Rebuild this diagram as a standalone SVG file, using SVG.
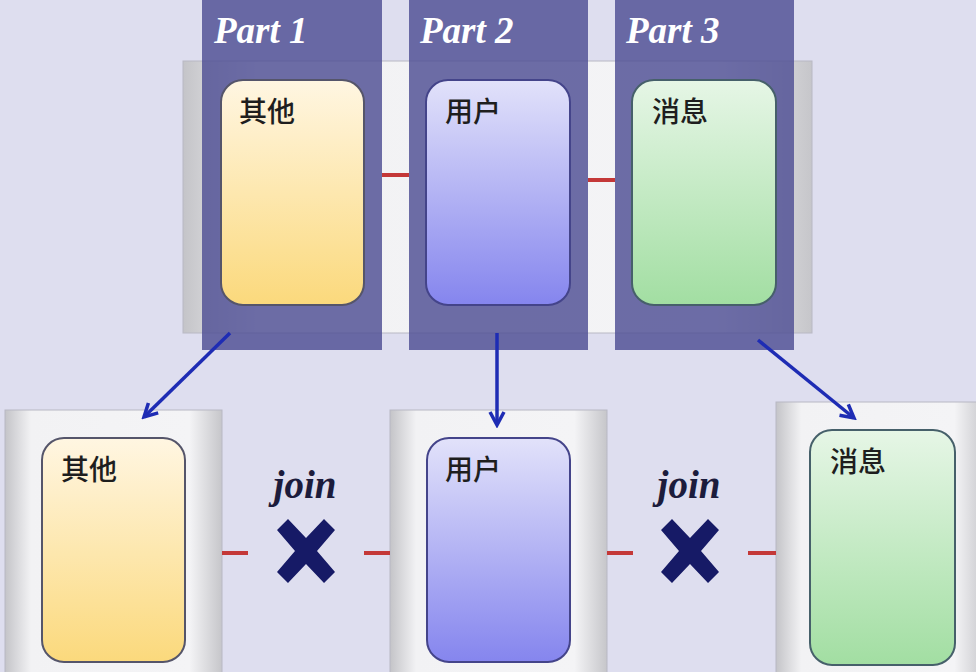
<svg xmlns="http://www.w3.org/2000/svg" width="976" height="672" viewBox="0 0 976 672">
<style>
.panel{fill:url(#panelG);stroke:#b8b8c4;stroke-width:1}
.part{fill:#4e4e94;fill-opacity:0.82}
.cardY{fill:url(#gY);stroke:#55556a;stroke-width:2}
.cardB{fill:url(#gB);stroke:#44448a;stroke-width:2}
.cardG{fill:url(#gG);stroke:#46606a;stroke-width:2}
.cjk{font-family:"Noto Sans CJK SC","Noto Sans",sans-serif;font-size:28px;font-weight:500;fill:#1e1e1e}
.ptl{font-family:"Liberation Serif",serif;font-style:italic;font-weight:bold;font-size:37px;fill:#ffffff}
.join{font-family:"Liberation Serif",serif;font-style:italic;font-weight:bold;font-size:39px;fill:#1c1c3c}
.red{stroke:#c43838;stroke-width:4}
.arr{stroke:#1e2cb4;stroke-width:3.5;fill:none;marker-end:url(#ah)}
.xm{fill:#161a66}
</style>
<defs>
<linearGradient id="panelG" x1="0" y1="0" x2="1" y2="0">
<stop offset="0" stop-color="#c4c4c8"/>
<stop offset="0.12" stop-color="#f2f2f4"/>
<stop offset="0.85" stop-color="#f4f4f6"/>
<stop offset="1" stop-color="#c6c6ca"/>
</linearGradient>
<linearGradient id="gY" x1="0" y1="0" x2="0" y2="1">
<stop offset="0" stop-color="#fff6e2"/>
<stop offset="1" stop-color="#fbd97c"/>
</linearGradient>
<linearGradient id="gB" x1="0" y1="0" x2="0" y2="1">
<stop offset="0" stop-color="#e2e2fa"/>
<stop offset="1" stop-color="#8585ee"/>
</linearGradient>
<linearGradient id="gG" x1="0" y1="0" x2="0" y2="1">
<stop offset="0" stop-color="#e6f6e6"/>
<stop offset="1" stop-color="#a2dea2"/>
</linearGradient>
<marker id="ah" markerWidth="18" markerHeight="18" refX="15" refY="9" orient="auto" markerUnits="userSpaceOnUse" viewBox="0 0 18 18">
<polyline points="2,2 15,9 2,16" fill="none" stroke="#1e2cb4" stroke-width="3.5" stroke-linejoin="miter"/>
</marker>
<path id="xshape" d="M-18,-32 L0,-13 L18,-32 L29,-21 L11,0 L29,21 L18,32 L0,13 L-18,32 L-29,21 L-11,0 L-29,-21 Z"/>
</defs>
<rect x="0" y="0" width="976" height="672" fill="#dedeef"/>

<g id="top-container">
<rect x="183" y="61" width="629" height="272" class="panel"/>
</g>
<g id="part1">
<rect x="202" y="0" width="180" height="350" class="part"/>
<text x="214" y="43" class="ptl">Part 1</text>
</g>
<g id="part2">
<rect x="409" y="0" width="179" height="350" class="part"/>
<text x="420" y="43" class="ptl">Part 2</text>
</g>
<g id="part3">
<rect x="615" y="0" width="179" height="350" class="part"/>
<text x="626" y="43" class="ptl">Part 3</text>
</g>
<g id="top-other">
<rect x="221" y="80" width="143" height="225" rx="22" class="cardY"/>
<text x="239" y="122" class="cjk">其他</text>
</g>
<g id="top-user">
<rect x="426" y="80" width="144" height="225" rx="22" class="cardB"/>
<text x="445" y="122" class="cjk">用户</text>
</g>
<g id="top-message">
<rect x="632" y="80" width="144" height="225" rx="22" class="cardG"/>
<text x="652" y="122" class="cjk">消息</text>
</g>

<g id="bottom-other">
<rect x="5" y="410" width="217" height="270" class="panel"/>
<rect x="42" y="438" width="143" height="224" rx="22" class="cardY"/>
<text x="61" y="480" class="cjk">其他</text>
</g>
<g id="bottom-user">
<rect x="390" y="410" width="217" height="270" class="panel"/>
<rect x="427" y="438" width="143" height="224" rx="22" class="cardB"/>
<text x="445" y="480" class="cjk">用户</text>
</g>
<g id="bottom-message">
<rect x="776" y="402" width="210" height="280" class="panel"/>
<rect x="810" y="430" width="145" height="235" rx="22" class="cardG"/>
<text x="830" y="472" class="cjk">消息</text>
</g>
<g id="join1">
<text x="305" y="498" class="join" text-anchor="middle">join</text>
<use href="#xshape" x="306" y="551" class="xm"/>
</g>
<g id="join2">
<text x="689" y="498" class="join" text-anchor="middle">join</text>
<use href="#xshape" x="690" y="551" class="xm"/>
</g>

<g id="connectors">
<line x1="382" y1="175" x2="409" y2="175" class="red"/>
<line x1="588" y1="180" x2="615" y2="180" class="red"/>
<line x1="222" y1="553" x2="248" y2="553" class="red"/>
<line x1="364" y1="553" x2="390" y2="553" class="red"/>
<line x1="607" y1="553" x2="633" y2="553" class="red"/>
<line x1="748" y1="553" x2="776" y2="553" class="red"/>
<line x1="230" y1="333" x2="144" y2="417" class="arr"/>
<line x1="497" y1="333" x2="497" y2="425" class="arr"/>
<line x1="758" y1="340" x2="854" y2="418" class="arr"/>
</g>
</svg>
